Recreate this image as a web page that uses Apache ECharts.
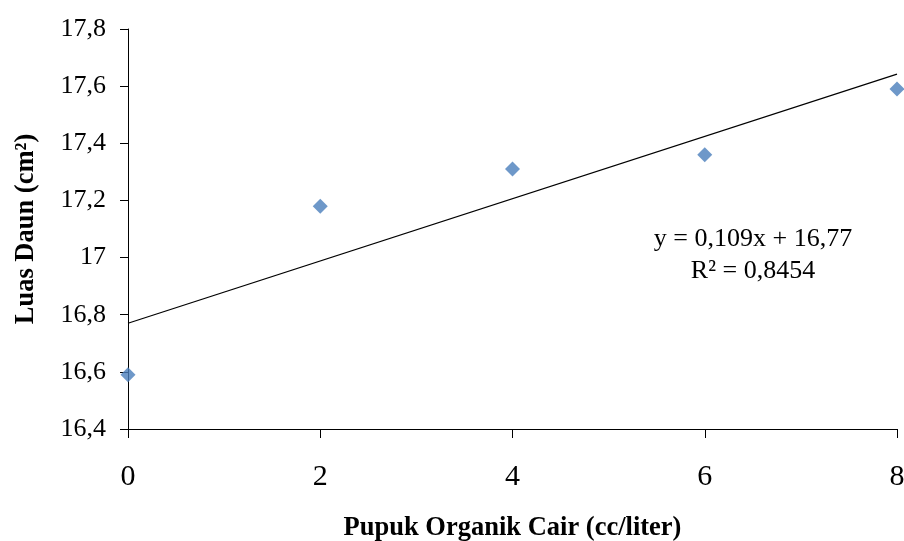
<!DOCTYPE html>
<html>
<head>
<meta charset="utf-8">
<script src="https://cdn.jsdelivr.net/npm/echarts@6/dist/echarts.min.js"></script>
<style>html,body{margin:0;padding:0;background:#fff}#c{width:904px;height:541px}</style>
</head>
<body>
<div id="c"></div>
<script>
var doseX = [0, 2, 4, 6, 8];
var leafArea = [16.59, 17.18, 17.31, 17.36, 17.59];
var trendX = [0, 8];
var trendY = [16.77, 17.642];
var xTicks = [0, 2, 4, 6, 8];
var yTicks = [16.4, 16.6, 16.8, 17.0, 17.2, 17.4, 17.6, 17.8];
var eqLine1 = 'y = 0,109x + 16,77';
var eqLine2 = 'R² = 0,8454';

var font = '"Liberation Serif", "Times New Roman", serif';
var chart = echarts.init(document.getElementById('c'));
chart.setOption({
  animation: false,
  backgroundColor: '#fff',
  grid: {left: 128, right: 7, top: 29, bottom: 112, outerBoundsMode: 'none', containLabel: false},
  xAxis: {
    type: 'value', min: 0, max: 8, interval: 2,
    name: 'Pupuk Organik Cair (cc/liter)', nameLocation: 'middle', nameGap: 86,
    nameTextStyle: {fontFamily: font, fontWeight: 'bold', fontSize: 26.5, color: '#000'},
    axisLine: {show: true, onZero: false, lineStyle: {color: '#000', width: 1}},
    axisTick: {show: true, length: 9, lineStyle: {color: '#000'}},
    axisLabel: {fontFamily: font, fontSize: 30, color: '#000', margin: 33,
      formatter: function (v) { return String(v); }},
    splitLine: {show: false}
  },
  yAxis: {
    type: 'value', min: 16.4, max: 17.8, interval: 0.2,
    name: 'Luas Daun (cm²)', nameLocation: 'middle', nameGap: 88, nameRotate: 90,
    nameTextStyle: {fontFamily: font, fontWeight: 'bold', fontSize: 26.5, color: '#000'},
    axisLine: {show: true, onZero: false, lineStyle: {color: '#000', width: 1}},
    axisTick: {show: true, length: 8, lineStyle: {color: '#000'}},
    axisLabel: {fontFamily: font, fontSize: 26, color: '#000', margin: 22,
      formatter: function (v) {
        var r = Math.round(v * 10) / 10;
        return (r % 1 === 0 ? String(r) : r.toFixed(1)).replace('.', ',');
      }},
    splitLine: {show: false}
  },
  series: [
    {
      type: 'line', data: trendX.map(function (x, i) { return [x, trendY[i]]; }),
      symbol: 'none', lineStyle: {color: '#000', width: 1.2}, z: 2
    },
    {
      type: 'scatter', data: doseX.map(function (x, i) { return [x, leafArea[i]]; }),
      symbol: 'diamond', symbolSize: 15, itemStyle: {color: '#4A7EBB'}, z: 3
    }
  ],
  graphic: [
    {type: 'text', x: 753, y: 223, style: {text: eqLine1 + '\n' + eqLine2, fontFamily: font, fontSize: 26, fill: '#000', align: 'center', verticalAlign: 'top', lineHeight: 32}}
  ]
});
</script>
</body>
</html>
